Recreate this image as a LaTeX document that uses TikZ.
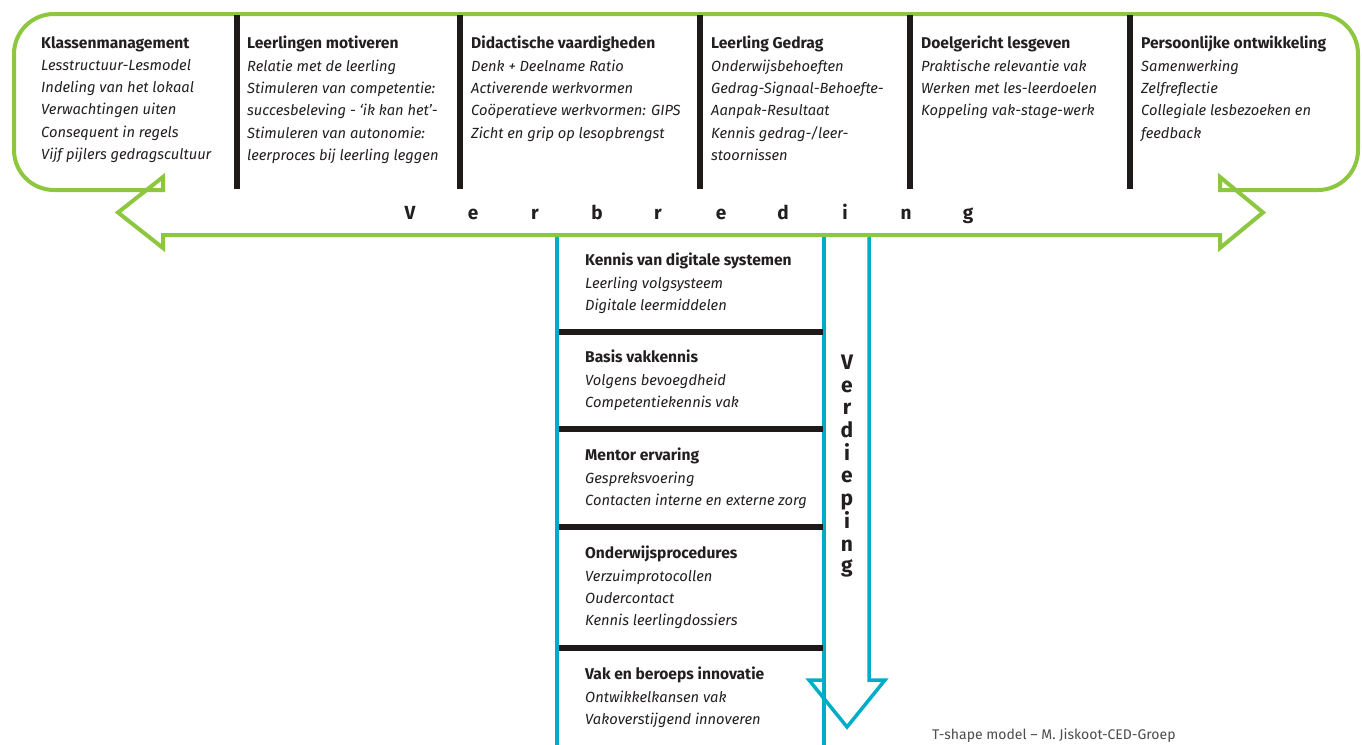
\documentclass[tikz,border=0pt]{standalone}
\usepackage{fontspec}
\setmainfont{Fira Sans}
\definecolor{tgreen}{RGB}{141,198,63}
\definecolor{tblue}{RGB}{0,172,200}
\definecolor{tbar}{RGB}{30,26,26}
\definecolor{ttext}{RGB}{35,31,32}
\newcommand{\hd}[1]{{\upshape\bfseries\fontsize{15.6}{22.3}\selectfont #1}}
\begin{document}
\begin{tikzpicture}[x=1pt,y=-1pt,
  col/.style={anchor=north west, inner sep=0pt, align=left, text=ttext,
    font=\fontsize{14.7}{22.3}\selectfont\itshape},
  bar/.style={line width=6pt, tbar},
  gline/.style={line width=4pt, tgreen, line join=miter},
  bline/.style={line width=3.5pt, tblue, line join=miter},
  hl/.style={font=\fontsize{19}{19}\selectfont\bfseries, text=ttext, inner sep=0pt},
  vl/.style={font=\fontsize{21}{21}\selectfont\bfseries, text=ttext, inner sep=0pt}]
\useasboundingbox (0,0) rectangle (1362,744);
\fill[white] (0,0) rectangle (1362,744);
% blue T stem
\coordinate (bl1) at (557,235); \coordinate (bl2) at (557,750);
\coordinate (br1) at (824,235); \coordinate (br2) at (824,750);
\draw[bline] (bl1) -- (bl2);
\draw[bline] (br1) -- (br2);
\draw[bline] (869,235) -- (869,680) -- (885,680) -- (847,727) -- (809,680) -- (824,680);
% green double arrow / box
\draw[gline] (54,14) -- (1318,14) arc[start angle=270,end angle=360,radius=40]
  -- (1358,150) arc[start angle=0,end angle=90,radius=40]
  -- (1220,190) -- (1220,177) -- (1263,212.5) -- (1220,248) -- (1220,235)
  -- (163,235) -- (163,248) -- (118,212.5) -- (163,177) -- (163,190)
  -- (54,190) arc[start angle=90,end angle=180,radius=40]
  -- (14,54) arc[start angle=180,end angle=270,radius=40] -- cycle;
% vertical dividers
\foreach \x in {236.5,460,700,910,1130} \draw[bar] (\x,15) -- (\x,189);
% horizontal dividers
\foreach \y in {332,429,527,648} \draw[bar] (558.5,\y) -- (822.5,\y);
% top columns
\node[col] (c1) at (41,36) {\hd{Klassenmanagement}\\Lesstructuur-Lesmodel\\Indeling van het lokaal\\Verwachtingen uiten\\Consequent in regels\\Vijf pijlers gedragscultuur};
\node[col] (c2) at (247,36) {\hd{Leerlingen motiveren}\\Relatie met de leerling\\Stimuleren van competentie:\\succesbeleving - `ik kan het'-\\Stimuleren van autonomie:\\leerproces bij leerling leggen};
\node[col] (c3) at (471,36) {\hd{Didactische vaardigheden}\\Denk + Deelname Ratio\\Activerende werkvormen\\Coöperatieve werkvormen: GIPS\\Zicht en grip op lesopbrengst};
\node[col] (c4) at (711,36) {\hd{Leerling Gedrag}\\Onderwijsbehoeften\\Gedrag-Signaal-Behoefte-\\Aanpak-Resultaat\\Kennis gedrag-/leer-\\stoornissen};
\node[col] (c5) at (921,36) {\hd{Doelgericht lesgeven}\\Praktische relevantie vak\\Werken met les-leerdoelen\\Koppeling vak-stage-werk};
\node[col] (c6) at (1141,36) {\hd{Persoonlijke ontwikkeling}\\Samenwerking\\Zelfreflectie\\Collegiale lesbezoeken en\\feedback};
% Verbreding
\foreach \ch/\x [count=\i] in {V/410,e/473,r/535,b/597,r/658,e/721,d/783,i/845,n/906,g/968}
  \node[hl, anchor=base] (vb\i) at (\x,219) {\ch};
% stem blocks
\node[col] (s1) at (585,253) {\hd{Kennis van digitale systemen}\\Leerling volgsysteem\\Digitale leermiddelen};
\node[col] (s2) at (585,350) {\hd{Basis vakkennis}\\Volgens bevoegdheid\\Competentiekennis vak};
\node[col] (s3) at (585,448) {\hd{Mentor ervaring}\\Gespreksvoering\\Contacten interne en externe zorg};
\node[col] (s4) at (585,546) {\hd{Onderwijsprocedures}\\Verzuimprotocollen\\Oudercontact\\Kennis leerlingdossiers};
\node[col] (s5) at (585,667) {\hd{Vak en beroeps innovatie}\\Ontwikkelkansen vak\\Vakoverstijgend innoveren};
% Verdieping
\foreach \ch/\y [count=\i] in {V/369,e/392,r/414,d/437,i/460,e/482,p/505,i/528,n/551,g/572}
  \node[vl, anchor=base] (vd\i) at (847,\y) {\ch};
% caption
\node[anchor=base west, inner sep=0pt, font=\fontsize{14}{14}\selectfont, text=black!70] (cap) at (932,739) {T-shape model – M. Jiskoot-CED-Groep};
\end{tikzpicture}
\end{document}
